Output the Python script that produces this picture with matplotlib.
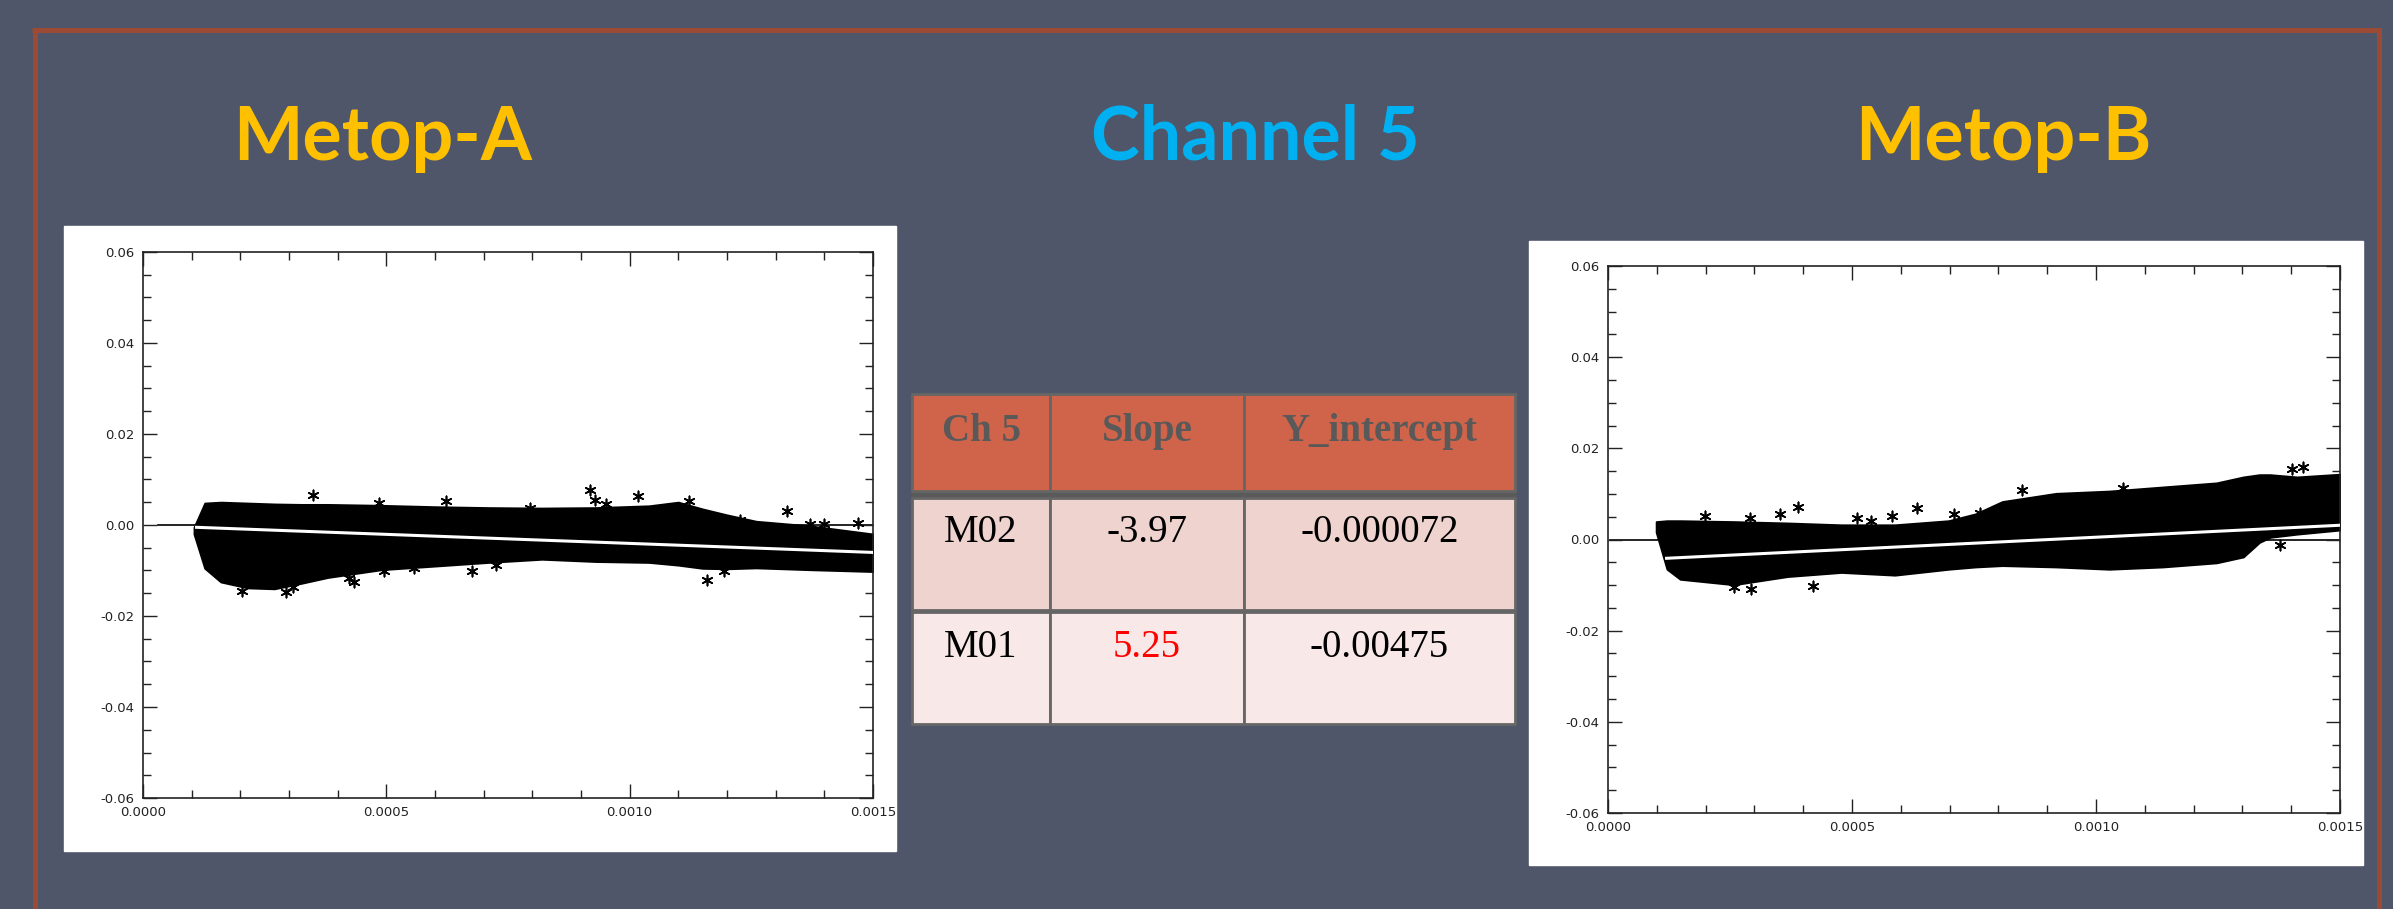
#!/usr/bin/env python3
"""Channel 5 slide: Metop-A / Metop-B scatter with linear fit, plus fit table."""
import matplotlib
matplotlib.use("Agg")
import matplotlib.pyplot as plt
from matplotlib.patches import Rectangle
from matplotlib.lines import Line2D
from matplotlib.ticker import MultipleLocator, FormatStrFormatter

W, H = 2393, 909
BG = "#4f566a"
FRAME = "#9d4a34"

# --- data ------------------------------------------------------------------
# Metop-A (M02): cloud envelope
a_x = [0.000105, 0.000127, 0.00016, 0.000215, 0.00027, 0.000325, 0.00038,
       0.00049, 0.0006, 0.00071, 0.00082, 0.00093, 0.00104, 0.0011, 0.00115,
       0.0012, 0.00126, 0.00137, 0.0015]
a_upper = [-0.0005, 0.0048, 0.0050, 0.0048, 0.0046, 0.0045, 0.0045, 0.0043,
           0.0040, 0.0038, 0.0037, 0.0038, 0.0042, 0.0050, 0.0035, 0.0022,
           0.0008, -0.0002, -0.0020]
a_lower = [-0.0020, -0.0095, -0.0125, -0.0138, -0.0140, -0.0128, -0.0115,
           -0.0098, -0.0090, -0.0082, -0.0075, -0.0080, -0.0082, -0.0088,
           -0.0095, -0.0096, -0.0094, -0.0098, -0.0102]
a_out_x = [0.000349, 0.000919, 0.000928, 0.001018, 0.000952, 0.001324,
           0.000204, 0.000294, 0.000308, 0.000433, 0.000424, 0.000495,
           0.000556, 0.000677, 0.000726, 0.001159, 0.001194, 0.000622,
           0.000484, 0.000796, 0.001122, 0.001227, 0.00137, 0.0014, 0.00147]
a_out_y = [0.0065, 0.0077, 0.0056, 0.0063, 0.0047, 0.0031,
           -0.0146, -0.0148, -0.0137, -0.0125, -0.0116, -0.0102,
           -0.0095, -0.0102, -0.0089, -0.0120, -0.0102, 0.0052,
           0.0049, 0.0038, 0.0052, 0.0011, 0.0002, 0.0002, 0.0005]

# Metop-B (M01): cloud envelope
b_x = [0.0000989, 0.000121, 0.000148, 0.000258, 0.000368, 0.000478, 0.000588,
       0.000698, 0.000753, 0.000808, 0.000918, 0.001027, 0.001137, 0.001247,
       0.001302, 0.001335, 0.001357, 0.001412, 0.0015]
b_upper = [0.0039, 0.0041, 0.0041, 0.0039, 0.0036, 0.0032, 0.0032, 0.0041,
           0.0056, 0.0083, 0.0101, 0.0106, 0.0115, 0.0124, 0.0137, 0.0142,
           0.0142, 0.0137, 0.0143]
b_lower = [0.0016, -0.0065, -0.0087, -0.0099, -0.0081, -0.0072, -0.0078,
           -0.0065, -0.0060, -0.0057, -0.0060, -0.0065, -0.0060, -0.0051,
           -0.0038, -0.0006, 0.0005, 0.0012, 0.0021]
b_out_x = [0.000198, 0.000291, 0.000352, 0.00039, 0.000511, 0.000538,
           0.000582, 0.000634, 0.000709, 0.000762, 0.000848, 0.000808,
           0.001401, 0.001425, 0.001377, 0.000258, 0.000294, 0.000421,
           0.001055]
b_out_y = [0.0052, 0.0048, 0.0057, 0.0072, 0.0048, 0.0041,
           0.0052, 0.0070, 0.0055, 0.0058, 0.0108, 0.0052,
           0.0155, 0.0160, -0.0011, -0.0105, -0.0109, -0.0103,
           0.0112]

# fit table
table_header = ["Ch 5", "Slope", "Y_intercept"]
sats = ["M02", "M01"]
slopes = [-3.97, 5.25]
intercepts = [-0.000072, -0.00475]
slope_txt = ["-3.97", "5.25"]
icpt_txt = ["-0.000072", "-0.00475"]
fit_x = [[0.00011, 0.0015], [0.00012, 0.0015]]
zero_x = [[0.00003, 0.0015], [0.000005, 0.0015]]


def fbox(x0, y0, x1, y1):
    """pixel box (top-left origin) -> figure fraction [l, b, w, h]"""
    return [x0 / W, 1 - y1 / H, (x1 - x0) / W, (y1 - y0) / H]


fig = plt.figure(figsize=(W / 100, H / 100), dpi=100, facecolor=BG)

# red frame (top, left, right)
for xs, ys in [([32, 2381], [30, 30]), ([34.5, 34.5], [28, 909]),
               ([2378.5, 2378.5], [28, 909])]:
    fig.add_artist(Line2D([x / W for x in xs], [1 - y / H for y in ys],
                          color=FRAME, lw=3.6, solid_capstyle="butt"))

# titles
tfont = dict(family="Lato", weight="bold", fontsize=53, ha="center",
             va="baseline")
fig.text(383 / W, 1 - 160 / H, "Metop-A", color="#ffc000", **tfont)
fig.text(1255 / W, 1 - 160 / H, "Channel 5", color="#00b0f0", **tfont)
fig.text(2003 / W, 1 - 160 / H, "Metop-B", color="#ffc000", **tfont)

# white picture backgrounds
fig.add_artist(Rectangle(fbox(64, 226, 896, 851)[:2], 832 / W, 625 / H,
                         transform=fig.transFigure, color="white", zorder=0))
fig.add_artist(Rectangle(fbox(1529, 241, 2363, 865)[:2], 834 / W, 624 / H,
                         transform=fig.transFigure, color="white", zorder=0))

panels = [
    (fbox(143, 252, 873, 798), a_x, a_upper, a_lower, a_out_x, a_out_y, 0),
    (fbox(1608, 266, 2340, 813), b_x, b_upper, b_lower, b_out_x, b_out_y, 1),
]
star = (6, 2, 0)
for box, x, up, lo, ox, oy, i in panels:
    ax = fig.add_axes(box)
    ax.set_facecolor("white")
    ax.plot(zero_x[i], [0, 0], color="black", lw=1.2, zorder=1)
    ax.fill_between(x, lo, up, color="black", lw=1.5, zorder=2)
    ax.scatter(ox, oy, marker=star, s=55, color="black", lw=1.2, zorder=3)
    fx = fit_x[i]
    ax.plot(fx, [slopes[i] * v + intercepts[i] for v in fx], color="white",
            lw=2.2, zorder=4)
    ax.set_xlim(0, 0.0015)
    ax.set_ylim(-0.06, 0.06)
    ax.xaxis.set_major_locator(MultipleLocator(0.0005))
    ax.xaxis.set_minor_locator(MultipleLocator(0.0001))
    ax.yaxis.set_major_locator(MultipleLocator(0.02))
    ax.yaxis.set_minor_locator(MultipleLocator(0.005))
    ax.xaxis.set_major_formatter(FormatStrFormatter("%.4f"))
    ax.yaxis.set_major_formatter(FormatStrFormatter("%.2f"))
    ax.tick_params(which="both", direction="in", top=True, right=True,
                   color="#222222", labelsize=9.5, labelcolor="#222222",
                   width=1)
    ax.tick_params(which="major", length=10, pad=6)
    ax.tick_params(which="minor", length=5.5)
    for s in ax.spines.values():
        s.set_color("#222222")
        s.set_linewidth(1.2)

# table
tax = fig.add_axes([0, 0, 1, 1], facecolor="none")
tax.set_xlim(0, W)
tax.set_ylim(H, 0)
tax.axis("off")
col_edges = [912, 1050, 1244, 1515]
row_edges = [(394, 491), (498, 610), (612, 724)]
row_colors = ["#d0644a", "#efd3cf", "#f8e9e8"]
baselines = [441, 542, 657]
rows = [table_header] + [[sats[k], slope_txt[k], icpt_txt[k]] for k in range(2)]
tax.add_patch(Rectangle((col_edges[0], 491), col_edges[-1] - col_edges[0], 7,
                        color="#5a5a5a"))
for r, (y0, y1) in enumerate(row_edges):
    for c in range(3):
        x0, x1 = col_edges[c], col_edges[c + 1]
        tax.add_patch(Rectangle((x0, y0), x1 - x0, y1 - y0,
                                facecolor=row_colors[r], edgecolor="#666666",
                                lw=2))
        color = "#595959" if r == 0 else "black"
        if r == 2 and c == 1:
            color = "#ff0000"
        tax.text((x0 + x1) / 2, baselines[r], rows[r][c], ha="center",
                 va="baseline", family="Liberation Serif",
                 weight="bold" if r == 0 else "normal", fontsize=28,
                 color=color)

fig.savefig("out.png", dpi=100, facecolor=BG)
